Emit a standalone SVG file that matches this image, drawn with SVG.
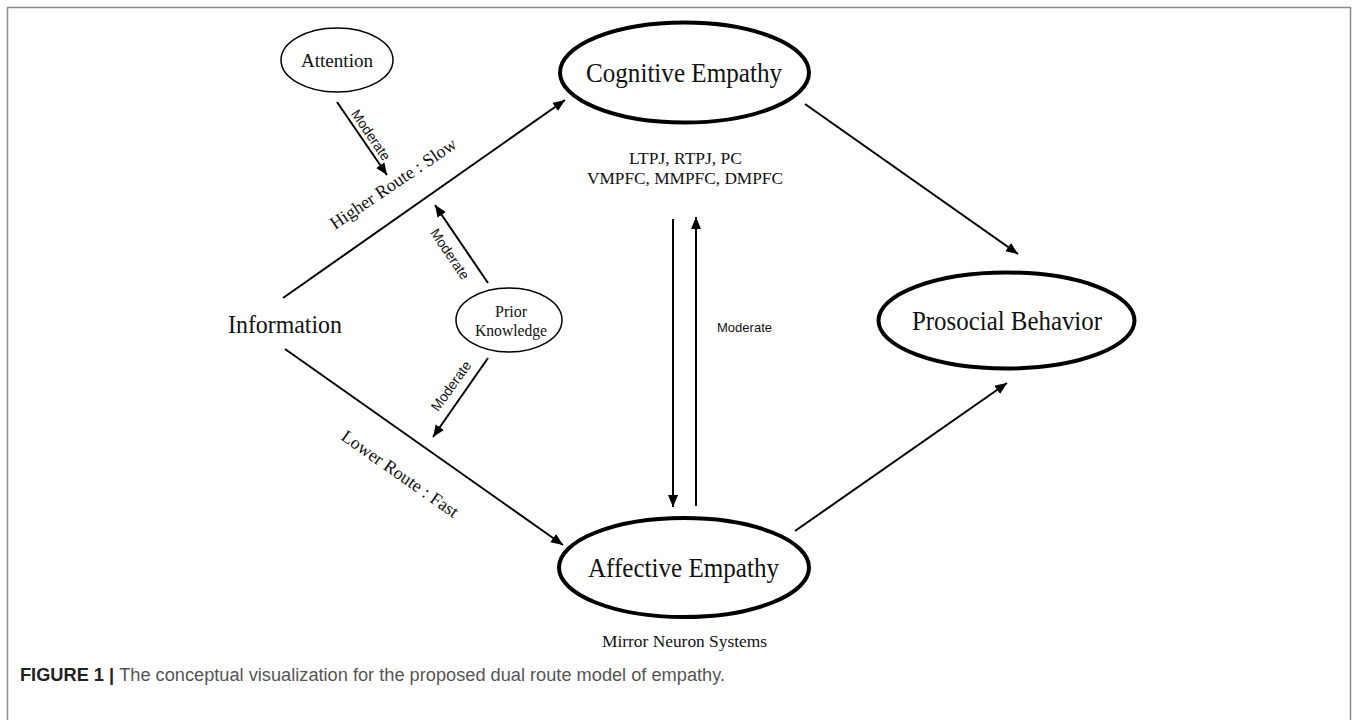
<svg xmlns="http://www.w3.org/2000/svg" width="1358" height="720" viewBox="0 0 1358 720">
<defs>
<marker id="ah" markerUnits="userSpaceOnUse" markerWidth="13" markerHeight="11" refX="12" refY="5" orient="auto">
<path d="M0,0 L12,5 L0,10 Z" fill="#000"/>
</marker>
</defs>
<style>
.serif{font-family:"Liberation Serif","Times New Roman",serif;fill:#111}
.sans{font-family:"Liberation Sans",Arial,sans-serif;fill:#111}
.thick{fill:#fff;stroke:#000;stroke-width:4}
.thin{fill:#fff;stroke:#000;stroke-width:1.5}
.con{stroke:#000;stroke-width:2;fill:none;marker-end:url(#ah)}
</style>
<rect x="0" y="0" width="1358" height="720" fill="#fff"/>
<rect x="7.5" y="7.5" width="1343" height="720" fill="none" stroke="#8a8a8a" stroke-width="1.5"/>

<g id="connectors">
<line class="con" x1="283" y1="298" x2="565" y2="100"/>
<line class="con" x1="285" y1="349" x2="563" y2="545"/>
<line class="con" x1="337" y1="102" x2="387" y2="175"/>
<line class="con" x1="488" y1="283" x2="435" y2="205"/>
<line class="con" x1="488" y1="358" x2="433" y2="437"/>
<line class="con" x1="673" y1="219" x2="673" y2="507"/>
<line class="con" x1="696" y1="506" x2="696" y2="217"/>
<line class="con" x1="805" y1="104" x2="1018" y2="254"/>
<line class="con" x1="795" y1="531" x2="1007" y2="383"/>
<text class="sans" font-size="14" textLength="58" lengthAdjust="spacingAndGlyphs" transform="translate(371,135) rotate(55.6)" text-anchor="middle" dy="0.35em">Moderate</text>
<text class="serif" font-size="18" transform="translate(335,230) rotate(-34)">Higher Route : Slow</text>
<text class="sans" font-size="14" textLength="58" lengthAdjust="spacingAndGlyphs" transform="translate(450,254) rotate(55.8)" text-anchor="middle" dy="0.35em">Moderate</text>
<text class="sans" font-size="14" textLength="58" lengthAdjust="spacingAndGlyphs" transform="translate(451,386) rotate(-54)" text-anchor="middle" dy="0.35em">Moderate</text>
<text class="serif" font-size="18" transform="translate(340,439) rotate(35)">Lower Route : Fast</text>
<text class="sans" font-size="13" textLength="55" lengthAdjust="spacingAndGlyphs" x="717" y="332">Moderate</text>
</g>

<g id="attention">
<ellipse class="thin" cx="337" cy="60" rx="56" ry="32"/>
<text class="serif" font-size="19" textLength="72" lengthAdjust="spacingAndGlyphs" x="301" y="67">Attention</text>
</g>
<g id="cognitive">
<ellipse class="thick" cx="684.5" cy="72.5" rx="124.5" ry="50"/>
<text class="serif" font-size="28" textLength="196" lengthAdjust="spacingAndGlyphs" x="586" y="82">Cognitive Empathy</text>
<text class="serif" font-size="16" textLength="113" lengthAdjust="spacingAndGlyphs" x="629" y="164">LTPJ, RTPJ, PC</text>
<text class="serif" font-size="16" textLength="196" lengthAdjust="spacingAndGlyphs" x="587" y="184">VMPFC, MMPFC, DMPFC</text>
</g>
<g id="prosocial">
<ellipse class="thick" cx="1006.5" cy="320.5" rx="128" ry="48"/>
<text class="serif" font-size="28" textLength="190" lengthAdjust="spacingAndGlyphs" x="912" y="330">Prosocial Behavior</text>
</g>
<g id="affective">
<ellipse class="thick" cx="684" cy="567.5" rx="125" ry="49.5"/>
<text class="serif" font-size="28" textLength="191" lengthAdjust="spacingAndGlyphs" x="588" y="577">Affective Empathy</text>
<text class="serif" font-size="16" textLength="165" lengthAdjust="spacingAndGlyphs" x="602" y="647">Mirror Neuron Systems</text>
</g>
<g id="information">
<text class="serif" font-size="25" textLength="114" lengthAdjust="spacingAndGlyphs" x="228" y="333">Information</text>
</g>
<g id="prior">
<ellipse class="thin" cx="509" cy="320" rx="53" ry="32"/>
<text class="serif" font-size="16" x="511" y="317" text-anchor="middle">Prior</text>
<text class="serif" font-size="16" textLength="72" lengthAdjust="spacingAndGlyphs" x="475" y="336">Knowledge</text>
</g>
<g id="caption">
<text class="sans" font-size="18" x="20" y="681" textLength="705" lengthAdjust="spacingAndGlyphs"><tspan font-weight="bold" fill="#222">FIGURE 1 | </tspan><tspan fill="#555">The conceptual visualization for the proposed dual route model of empathy.</tspan></text>
</g>
</svg>
